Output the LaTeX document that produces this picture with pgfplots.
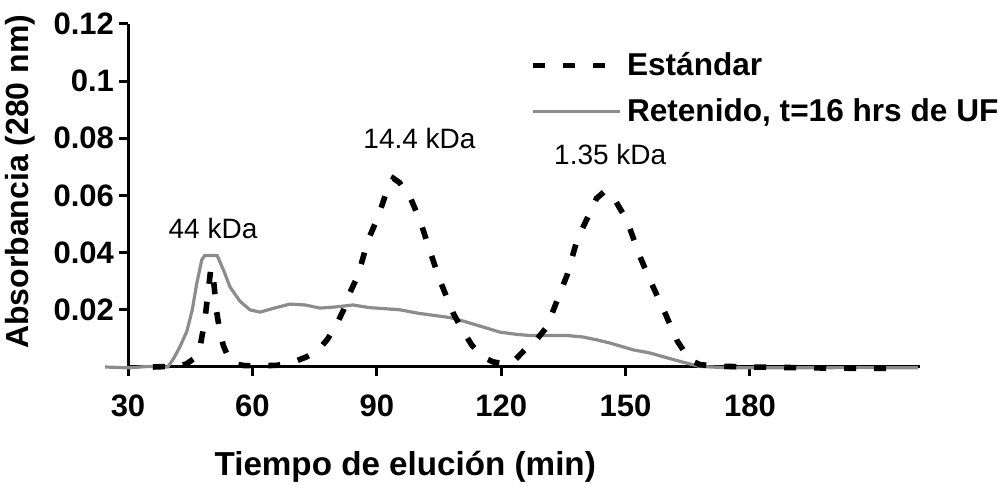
\documentclass[border=0pt]{standalone}
\usepackage{pgfplots}
\pgfplotsset{compat=1.18}
\usepackage{fontspec}
\setmainfont{Liberation Sans}

\definecolor{retgray}{RGB}{140,140,140}

\begin{document}
\begin{tikzpicture}
\useasboundingbox (0,0) rectangle (501.5pt,242.5pt);
\begin{axis}[
  at={(64pt,59pt)}, anchor=south west,
  scale only axis, width=396pt, height=171.5pt,
  xmin=30, xmax=221, ymin=0, ymax=0.12,
  clip=false,
  axis x line*=bottom, axis y line*=left,
  axis line style={line width=1.5pt, black},
  tick align=outside,
  major tick length=4.5pt,
  tick style={line width=1.5pt, black},
  xtick={30,60,90,120,150,180},
  xticklabels={30,60,90,120,150,180},
  ytick={0.02,0.04,0.06,0.08,0.1,0.12},
  yticklabels={0.02,0.04,0.06,0.08,0.1,0.12},
  ticklabel style={font=\bfseries\fontsize{15.5}{18}\selectfont},
  xticklabel style={yshift=-6pt},
  yticklabel style={xshift=1pt},
  xlabel={Tiempo de elución (min)},
  xlabel style={font=\bfseries\fontsize{16.6}{19}\selectfont,
    at={(axis description cs:0.35,0)}, anchor=center, yshift=-50pt},
  ylabel={Absorbancia (280 nm)},
  ylabel style={font=\bfseries\fontsize{16}{19}\selectfont,
    at={(axis description cs:-0.136,0.54)}, anchor=center},
  legend style={draw=none, fill=none, at={(rel axis cs:0.5076,0.93)},
    anchor=north west, font=\bfseries\fontsize{15.8}{19}\selectfont,
    row sep=6pt, inner sep=0pt, cells={anchor=west}},
  legend image code/.code={\draw[#1] (0pt,0pt) -- (43.5pt,0pt);},
  reverse legend,
]

% Retenido, t = 16 h de UF
\addplot[retgray, line width=1.6pt] coordinates {
  (24.5,0) (30,-0.0003) (35,0.0002) (39.6,0) (41,0.003) (42.5,0.007)
  (44.2,0.0125) (45.5,0.02) (46.6,0.0294) (47.8,0.0375) (48.5,0.039)
  (51.5,0.039) (53,0.034)
  (54.6,0.028) (57,0.023) (59.4,0.020) (61.8,0.0192) (65,0.0205)
  (69,0.022) (72.7,0.0217) (76.3,0.0206) (80,0.021) (84.3,0.0217)
  (88,0.0208) (91,0.0205) (95.6,0.020) (100,0.0188) (104,0.018)
  (107.6,0.0173) (111,0.016) (115.6,0.014) (119.7,0.0122) (123.8,0.0114)
  (127,0.011) (131.8,0.011) (136,0.011) (139.7,0.0105) (143,0.0095)
  (146.2,0.0084) (151.8,0.006) (155.9,0.0049) (160,0.0032) (163.8,0.0017)
  (167.9,0.0002) (175,-0.0003) (190,-0.0003) (205,-0.0002) (220.5,-0.0003)
};
\addlegendentry{Retenido, t=16 hrs de UF}

% Estándar
\addplot[black, line width=2.8pt, dash pattern=on 6pt off 9pt] coordinates {
  (36,0) (42,0.0003) (44,0.001) (46,0.003) (47.5,0.008) (48.5,0.016)
  (49.3,0.026) (49.9,0.0335) (50.3,0.0345) (50.8,0.028) (51.3,0.02)
  (52.2,0.012) (53,0.0075) (54.3,0.003) (55.5,0.0012) (58,0.0005)
  (62,0.0004) (66,0.0006) (70,0.0018) (73,0.0035) (75.6,0.0055)
  (78,0.0095) (80,0.014) (82,0.02) (83.5,0.0259) (85.5,0.0322)
  (87.9,0.0444) (90.3,0.0525) (92.5,0.062) (94,0.066) (95.5,0.0645)
  (98,0.0595) (100.4,0.0514) (103.3,0.0385) (105.2,0.0304) (108.4,0.0189)
  (110.8,0.0125) (113,0.0075) (115.6,0.0035) (118,0.0018) (120.4,0.0012)
  (123,0.002) (125.7,0.006) (128.5,0.0095) (131,0.014) (134.2,0.0259)
  (135.9,0.0322) (138.3,0.0444) (140.9,0.0525) (143,0.059) (145,0.0615)
  (147,0.0595) (150.3,0.0514) (153.5,0.0385) (155.9,0.0304) (159.5,0.0189)
  (162.5,0.009) (165.5,0.0024) (168,0.0008) (172,0.0003) (180,0)
  (200,-0.0004) (216.5,-0.0005)
};
\addlegendentry{Estándar}

\node[font=\fontsize{14}{17}\selectfont] at (axis cs:50.5,0.0486) {44 kDa};
\node[font=\fontsize{14}{17}\selectfont] at (axis cs:100.3,0.080) {14.4 kDa};
\node[font=\fontsize{14}{17}\selectfont] at (axis cs:146.3,0.0745) {1.35 kDa};
\end{axis}
\end{tikzpicture}
\end{document}
